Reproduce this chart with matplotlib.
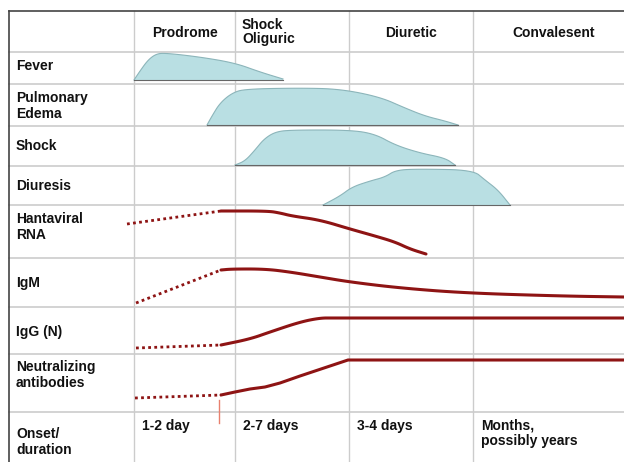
import numpy as np
import matplotlib.pyplot as plt

# layout of the table (pixel grid of the original slide)
col_lines = [134, 235, 349, 473]
row_lines = [52, 84, 126, 166, 205, 258, 307, 354, 412]

phases = ["Prodrome", "Shock\nOliguric", "Diuretic", "Convalesent"]
row_names = ["Fever", "Pulmonary\nEdema", "Shock", "Diuresis", "Hantaviral\nRNA",
             "IgM", "IgG (N)", "Neutralizing\nantibodies", "Onset/\nduration"]
durations = ["1-2 day", "2-7 days", "3-4 days", "Months,\npossibly years"]

# symptom profiles (x, top edge); baseline is the bottom of each shape
fever_x = [134, 140, 148, 156, 165, 200, 235, 260, 283]
fever_y = [80, 71, 60, 54, 53, 57, 63, 72, 79]
fever_base = 80

edema_x = [207, 212, 220, 232, 245, 300, 340, 380, 405, 425, 445, 458]
edema_y = [125, 116, 103, 93, 89, 88, 89, 97, 108, 116, 121, 125]
edema_base = 125

shock_x = [235, 245, 255, 264, 275, 290, 350, 375, 395, 420, 445, 455]
shock_y = [165, 161, 150, 139, 132, 130, 130, 134, 145, 153, 158, 165]
shock_base = 165

diur_x = [323, 340, 352, 370, 385, 396, 420, 473, 485, 498, 510]
diur_y = [205, 196, 187, 181, 177, 170, 169, 170, 180, 190, 205]
diur_base = 205

# lab markers: dotted early part, solid later part
rna_dot_x = [127, 221]
rna_dot_y = [224, 211]
rna_x = [221, 268, 280, 292, 320, 350, 375, 395, 410, 426]
rna_y = [211, 211, 213, 216, 220, 229, 236, 242, 249, 254]

igm_dot_x = [136, 221]
igm_dot_y = [303, 270]
igm_x = [221, 232, 265, 290, 320, 350, 400, 465, 560, 624]
igm_y = [270, 269, 269, 272, 277, 282, 288, 293, 296, 297]

igg_dot_x = [136, 221]
igg_dot_y = [348, 345]
igg_x = [221, 250, 270, 300, 320, 333, 345, 624]
igg_y = [345, 339, 332, 322, 318, 318, 318, 318]

neut_dot_x = [135, 221]
neut_dot_y = [398, 395]
neut_x = [221, 235, 250, 265, 280, 300, 348, 624]
neut_y = [395, 392, 389, 387, 383, 376, 360, 360]

fill_col = "#b9dfe3"
edge_col = "#8cb5ba"
red = "#8e1414"
grid_col = "#cccccc"


def smooth(xs, ys, n=3):
    # chaikin corner cutting, only to round off the drawn path
    p = np.column_stack([xs, ys]).astype(float)
    for _ in range(n):
        q = 0.75 * p[:-1] + 0.25 * p[1:]
        r = 0.25 * p[:-1] + 0.75 * p[1:]
        mid = np.empty((2 * len(q), 2))
        mid[0::2] = q
        mid[1::2] = r
        p = np.vstack([p[:1], mid, p[-1:]])
    return p[:, 0], p[:, 1]


fig = plt.figure(figsize=(6.24, 4.62), dpi=100)
ax = fig.add_axes([0, 0, 1, 1])
ax.set_xlim(0, 624)
ax.set_ylim(462, 0)
ax.axis("off")

# grid
for x in col_lines:
    ax.plot([x, x], [11, 462], color=grid_col, lw=1, zorder=1)
for y in row_lines:
    ax.plot([9, 624], [y, y], color=grid_col, lw=1.2, zorder=1)
ax.plot([9, 624], [11, 11], color="#444444", lw=1.2, zorder=3)
ax.plot([9, 9], [11, 462], color="#444444", lw=1.2, zorder=3)

# symptom shapes
for xs, ys, base in [(fever_x, fever_y, fever_base), (edema_x, edema_y, edema_base),
                     (shock_x, shock_y, shock_base), (diur_x, diur_y, diur_base)]:
    sx, sy = smooth(xs, ys)
    ax.fill_between(sx, sy, base, color=fill_col, edgecolor="none", zorder=2)
    ax.plot(sx, sy, color=edge_col, lw=0.8, zorder=2)
    ax.plot([xs[0], xs[-1]], [base, base], color="#666666", lw=0.8, zorder=2)

# lab curves
for dx, dy, cx, cy, soft in [(rna_dot_x, rna_dot_y, rna_x, rna_y, True),
                             (igm_dot_x, igm_dot_y, igm_x, igm_y, True),
                             (igg_dot_x, igg_dot_y, igg_x, igg_y, True),
                             (neut_dot_x, neut_dot_y, neut_x, neut_y, False)]:
    ax.plot(dx, dy, color=red, lw=2, ls=(0, (1, 1.2)), zorder=4)
    sx, sy = smooth(cx, cy) if soft else (cx, cy)
    ax.plot(sx, sy, color=red, lw=2.2, solid_capstyle="round", zorder=4)

# small onset tick
ax.plot([219, 219], [400, 423], color="#e8806e", lw=1, zorder=4)

font = dict(family=["Liberation Sans", "DejaVu Sans"], fontsize=10, fontweight="bold", color="#111111")

# headers
ax.text(185, 33, phases[0], ha="center", va="center", **font)
ax.text(242, 32, phases[1], ha="left", va="center", linespacing=1.05, **font)
ax.text(411, 33, phases[2], ha="center", va="center", **font)
ax.text(554, 33, phases[3], ha="center", va="center", **font)

# row labels
label_y = [66, 106, 146, 186, 227, 283, 332, 375, 442]
for name, y in zip(row_names, label_y):
    ax.text(16, y, name, ha="left", va="center", linespacing=1.1, **font)

# durations
dur_x = [142, 243, 357, 481]
for d, x in zip(durations, dur_x):
    ax.text(x, 419, d, ha="left", va="top", linespacing=1.1, **font)

fig.savefig("out.png", dpi=100)
